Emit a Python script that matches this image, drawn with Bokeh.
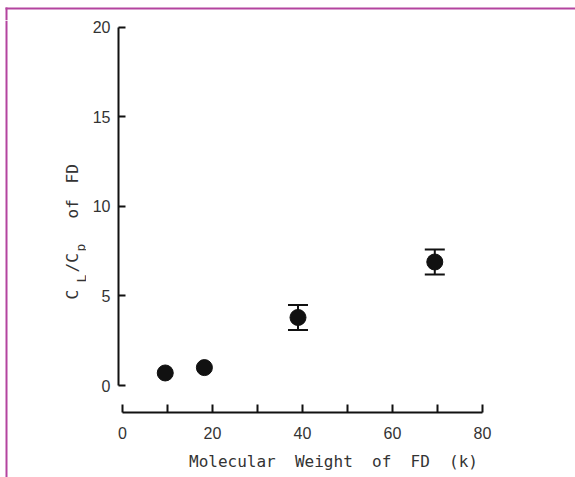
import math
from bokeh.plotting import figure
from bokeh.layouts import row, column
from bokeh.models import Range1d, FixedTicker, Whisker, TeeHead, ColumnDataSource, Label
from bokeh.embed import file_html
from bokeh.resources import INLINE

# data
mol_weight = [9.5, 18.2, 39.0, 69.4]
ratio = [0.7, 1.0, 3.8, 6.9]
err_x = [39.0, 69.4]
err_mid = [3.8, 6.9]
err_size = [0.7, 0.7]
y_ticks = [0, 5, 10, 15, 20]
x_major = [0, 20, 40, 60, 80]
x_minor = [10, 30, 50, 70]

INK = "#111111"
TXT = "#333333"
BORDER = "#b4449f"
MONO = "DejaVu Sans Mono"
NUM = "Liberation Sans Narrow, Liberation Sans"
SP = " \u00a0"

W, H = 575, 477
TOP_H = 20
LEFT_W = 86


def blank(width, height, xr, yr):
    f = figure(width=width, height=height, x_range=xr, y_range=yr, title=None,
               min_border=0, x_axis_location=None, y_axis_location=None,
               output_backend="svg", toolbar_location=None, frame_align=False)
    f.grid.visible = False
    f.outline_line_color = None
    f.background_fill_color = "white"
    f.border_fill_color = "white"
    return f


# top strip with the magenta page frame
top = blank(W, TOP_H, Range1d(0, W), Range1d(TOP_H, 0))
top.quad(left=[5, 5], right=[W, 7], top=[7, 7], bottom=[9, TOP_H],
         fill_color=BORDER, line_color=None)

# left strip: page frame and rotated y axis title with subscripts
left = blank(LEFT_W, H - TOP_H, Range1d(0, LEFT_W), Range1d(H, TOP_H))
left.quad(left=[5], right=[7], top=[TOP_H], bottom=[H], fill_color=BORDER, line_color=None)
pieces = [("C", 72, 299, "16px"), ("L", 81, 282, "13px"), ("/C", 72, 272, "16px"),
          ("p", 80, 251, "13px"), ("of", 72, 218, "16px"), ("FD", 72, 183, "16px")]
for t, bx, by, fs in pieces:
    left.add_layout(Label(x=bx, y=by, text=t, angle=math.pi / 2, text_align="left",
                          text_baseline="alphabetic", text_font=MONO, text_font_size=fs,
                          text_color=TXT))

# main chart
p = figure(width=W - LEFT_W, height=H - TOP_H,
           x_range=Range1d(-0.889, 94.67), y_range=Range1d(-1.508, 20.39),
           min_border_left=118 - LEFT_W, min_border_right=27,
           min_border_top=0, min_border_bottom=65,
           output_backend="svg", toolbar_location=None, frame_align=False)
p.grid.visible = False
p.outline_line_color = None
p.background_fill_color = "white"
p.border_fill_color = "white"

ya = p.yaxis[0]
ya.ticker = FixedTicker(ticks=y_ticks)
ya.bounds = (0, 20)
ya.axis_line_width = 2
ya.axis_line_color = INK
ya.major_tick_in = 7
ya.major_tick_out = 0
ya.major_tick_line_width = 2
ya.major_tick_line_color = INK
ya.minor_tick_line_color = None
ya.major_label_standoff = 8
ya.major_label_text_font = NUM
ya.major_label_text_font_size = "16px"
ya.major_label_text_color = TXT

xa = p.xaxis[0]
xa.ticker = FixedTicker(ticks=x_major, minor_ticks=x_minor)
xa.bounds = (0, 80)
xa.axis_line_width = 2
xa.axis_line_color = INK
xa.major_tick_in = 8
xa.major_tick_out = 0
xa.minor_tick_in = 8
xa.minor_tick_out = 0
xa.major_tick_line_width = 2
xa.minor_tick_line_width = 2
xa.major_tick_line_color = INK
xa.minor_tick_line_color = INK
xa.major_label_standoff = 14
xa.major_label_text_font = NUM
xa.major_label_text_font_size = "16px"
xa.major_label_text_color = TXT
xa.axis_label = SP.join(["Molecular", "Weight", "of", "FD", "(k)"])
xa.axis_label_text_font = MONO
xa.axis_label_text_font_style = "normal"
xa.axis_label_text_font_size = "16px"
xa.axis_label_text_color = TXT
xa.axis_label_standoff = 10

p.scatter(mol_weight, ratio, size=16, fill_color=INK, line_color=INK)
src = ColumnDataSource(dict(x=err_x, lo=[m - e for m, e in zip(err_mid, err_size)],
                            hi=[m + e for m, e in zip(err_mid, err_size)]))
p.add_layout(Whisker(source=src, base="x", lower="lo", upper="hi", line_width=2, line_color=INK,
                     upper_head=TeeHead(size=20, line_width=2, line_color=INK),
                     lower_head=TeeHead(size=20, line_width=2, line_color=INK)))

layout = column(top, row(left, p, spacing=0), spacing=0)
open("out.html", "w").write(file_html(layout, INLINE))
